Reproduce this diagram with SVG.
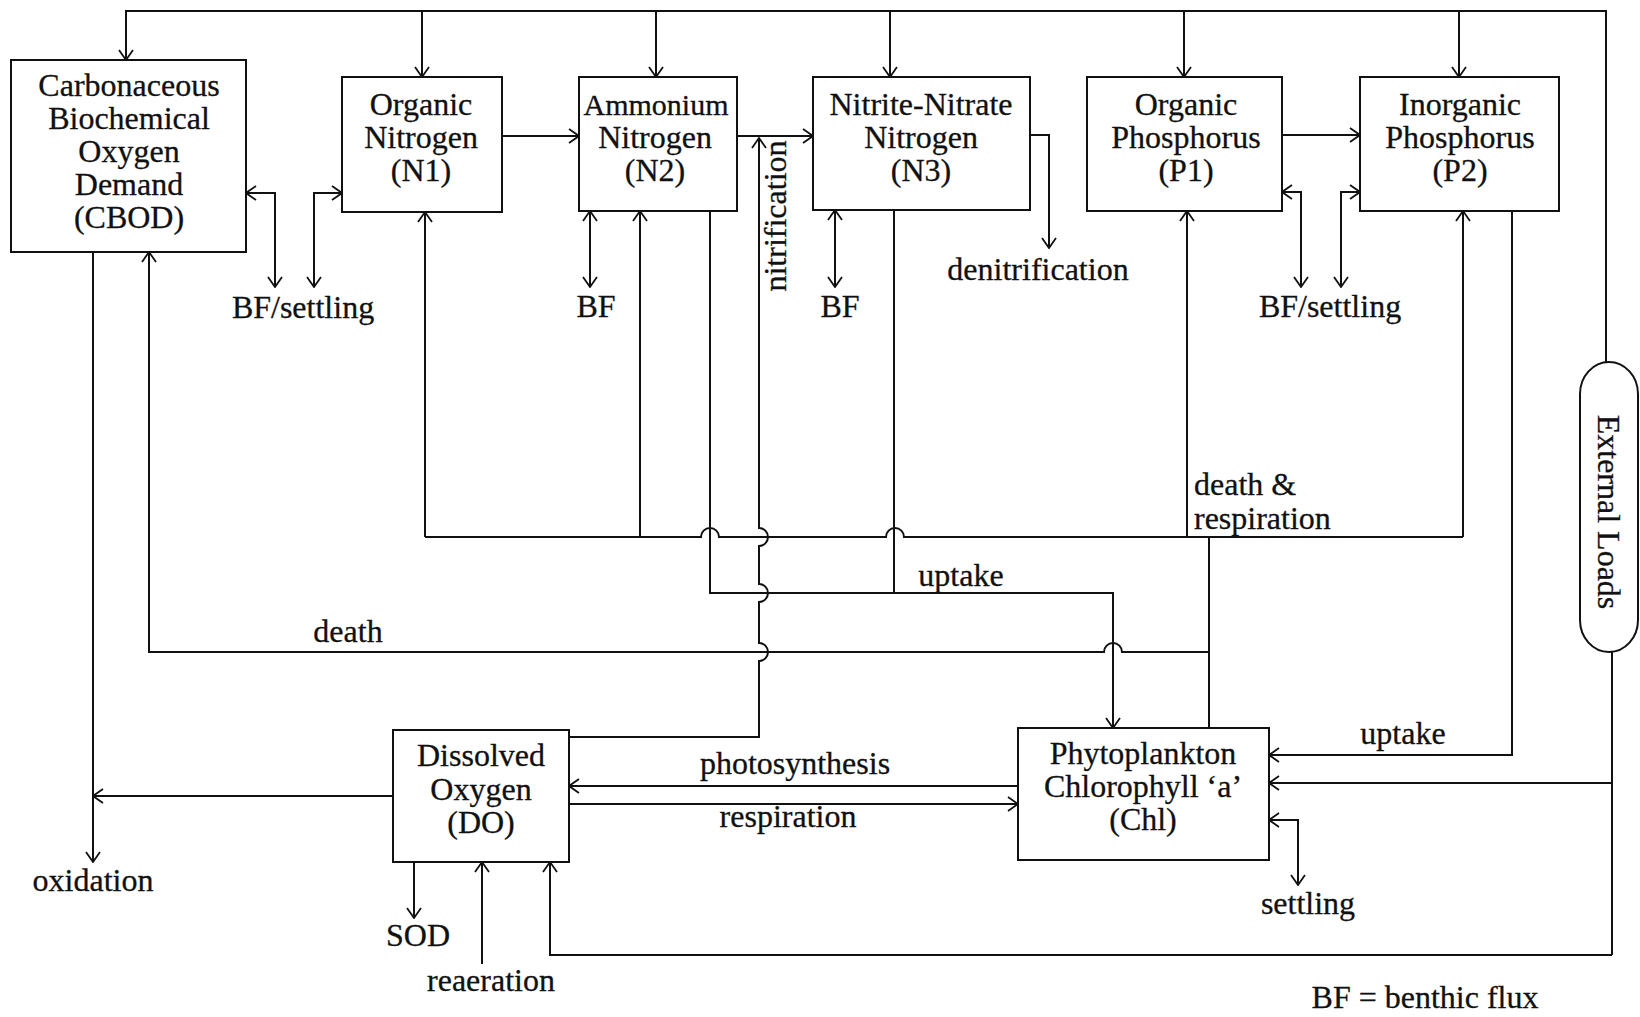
<svg xmlns="http://www.w3.org/2000/svg" width="1640" height="1017" viewBox="0 0 1640 1017">
<style>
text{font-family:"Liberation Serif","Times New Roman",serif;font-size:32px;fill:#111;stroke:#111;stroke-width:0.3}
.c{text-anchor:middle}
.box{fill:#fff;stroke:#111;stroke-width:2}
.ln{fill:none;stroke:#111;stroke-width:2}
</style>
<defs>
<marker id="a" viewBox="0 0 12 16" refX="11" refY="8" markerWidth="12" markerHeight="16" markerUnits="userSpaceOnUse" orient="auto-start-reverse">
<path d="M1,1 L11,8 L1,15" fill="none" stroke="#111" stroke-width="1.8"/>
</marker>
</defs>
<rect width="1640" height="1017" fill="#fff"/>

<g id="connectors">
<path class="ln" d="M1606,362 L1606,11 L126,11 L126,60" marker-end="url(#a)"/>
<path class="ln" d="M422,11 L422,77" marker-end="url(#a)"/>
<path class="ln" d="M656,11 L656,77" marker-end="url(#a)"/>
<path class="ln" d="M890,11 L890,77" marker-end="url(#a)"/>
<path class="ln" d="M1184,11 L1184,77" marker-end="url(#a)"/>
<path class="ln" d="M1459,11 L1459,77" marker-end="url(#a)"/>
<path class="ln" d="M502,136 L579,136" marker-end="url(#a)"/>
<path class="ln" d="M737,136 L813,136" marker-end="url(#a)"/>
<path class="ln" d="M1282,135 L1360,135" marker-end="url(#a)"/>
<path class="ln" d="M1030,135 L1049,135 L1049,248" marker-end="url(#a)"/>
<path class="ln" d="M569,737 L759,737 L759,661 A9,9 0 0 0 759,643 L759,602 A9,9 0 0 0 759,584 L759,546 A9,9 0 0 0 759,528 L759,138" marker-end="url(#a)"/>
<path class="ln" d="M275,287 L275,193 L246,193" marker-start="url(#a)" marker-end="url(#a)"/>
<path class="ln" d="M314,287 L314,193 L342,193" marker-start="url(#a)" marker-end="url(#a)"/>
<path class="ln" d="M590,211 L590,287" marker-start="url(#a)" marker-end="url(#a)"/>
<path class="ln" d="M835,210 L835,287" marker-start="url(#a)" marker-end="url(#a)"/>
<path class="ln" d="M1282,192 L1301,192 L1301,287" marker-start="url(#a)" marker-end="url(#a)"/>
<path class="ln" d="M1341,287 L1341,192 L1360,192" marker-start="url(#a)" marker-end="url(#a)"/>
<path class="ln" d="M1269,820 L1298,820 L1298,885" marker-start="url(#a)" marker-end="url(#a)"/>
<path class="ln" d="M1209,728 L1209,537"/>
<path class="ln" d="M425,537 L701,537 A9,9 0 0 1 719,537 L886,537 A9,9 0 0 1 904,537 L1463,537"/>
<path class="ln" d="M425,537 L425,212" marker-end="url(#a)"/>
<path class="ln" d="M640,537 L640,211" marker-end="url(#a)"/>
<path class="ln" d="M1187,537 L1187,211" marker-end="url(#a)"/>
<path class="ln" d="M1463,537 L1463,211" marker-end="url(#a)"/>
<path class="ln" d="M1209,652 L1122,652 A9,9 0 0 0 1104,652 L149,652 L149,252" marker-end="url(#a)"/>
<path class="ln" d="M710,211 L710,593 L1113,593 L1113,728" marker-end="url(#a)"/>
<path class="ln" d="M894,210 L894,593"/>
<path class="ln" d="M1512,211 L1512,755 L1269,755" marker-end="url(#a)"/>
<path class="ln" d="M1612,652 L1612,955"/>
<path class="ln" d="M1612,783 L1269,783" marker-end="url(#a)"/>
<path class="ln" d="M1612,955 L550,955 L550,862" marker-end="url(#a)"/>
<path class="ln" d="M1018,786 L569,786" marker-end="url(#a)"/>
<path class="ln" d="M569,804 L1018,804" marker-end="url(#a)"/>
<path class="ln" d="M393,796 L93,796" marker-end="url(#a)"/>
<path class="ln" d="M93,252 L93,862" marker-end="url(#a)"/>
<path class="ln" d="M414,862 L414,918" marker-end="url(#a)"/>
<path class="ln" d="M482,964 L482,862" marker-end="url(#a)"/>
</g>

<g id="labels">
<text class="c" x="303" y="318">BF/settling</text>
<text class="c" x="596" y="317">BF</text>
<text class="c" x="840" y="317">BF</text>
<text class="c" x="1038" y="280">denitrification</text>
<text class="c" x="1330" y="317">BF/settling</text>
<text transform="translate(786,216) rotate(-90)" class="c">nitrification</text>
<text x="1194" y="495">death &amp;</text>
<text x="1194" y="529">respiration</text>
<text class="c" x="961" y="586">uptake</text>
<text class="c" x="348" y="642">death</text>
<text class="c" x="795" y="774">photosynthesis</text>
<text class="c" x="788" y="827">respiration</text>
<text class="c" x="1403" y="744">uptake</text>
<text class="c" x="1308" y="914">settling</text>
<text class="c" x="93" y="891">oxidation</text>
<text class="c" x="418" y="946">SOD</text>
<text class="c" x="491" y="991">reaeration</text>
<text class="c" x="1425" y="1008">BF = benthic flux</text>
</g>

<g id="cbod">
<rect class="box" x="11" y="60" width="235" height="192"/>
<text class="c" x="129" y="96">Carbonaceous</text>
<text class="c" x="129" y="129">Biochemical</text>
<text class="c" x="129" y="162">Oxygen</text>
<text class="c" x="129" y="195">Demand</text>
<text class="c" x="129" y="228">(CBOD)</text>
</g>
<g id="n1">
<rect class="box" x="342" y="77" width="160" height="135"/>
<text class="c" x="421" y="115">Organic</text>
<text class="c" x="421" y="148">Nitrogen</text>
<text class="c" x="421" y="181">(N1)</text>
</g>
<g id="n2">
<rect class="box" x="579" y="77" width="158" height="134"/>
<text class="c" x="656" y="115" style="font-size:30px">Ammonium</text>
<text class="c" x="655" y="148">Nitrogen</text>
<text class="c" x="655" y="181">(N2)</text>
</g>
<g id="n3">
<rect class="box" x="813" y="77" width="217" height="133"/>
<text class="c" x="921" y="115">Nitrite-Nitrate</text>
<text class="c" x="921" y="148">Nitrogen</text>
<text class="c" x="921" y="181">(N3)</text>
</g>
<g id="p1">
<rect class="box" x="1087" y="77" width="195" height="134"/>
<text class="c" x="1186" y="115">Organic</text>
<text class="c" x="1186" y="148">Phosphorus</text>
<text class="c" x="1186" y="181">(P1)</text>
</g>
<g id="p2">
<rect class="box" x="1360" y="77" width="199" height="134"/>
<text class="c" x="1460" y="115">Inorganic</text>
<text class="c" x="1460" y="148">Phosphorus</text>
<text class="c" x="1460" y="181">(P2)</text>
</g>
<g id="do">
<rect class="box" x="393" y="730" width="176" height="132"/>
<text class="c" x="481" y="766">Dissolved</text>
<text class="c" x="481" y="800">Oxygen</text>
<text class="c" x="481" y="833">(DO)</text>
</g>
<g id="chl">
<rect class="box" x="1018" y="728" width="251" height="132"/>
<text class="c" x="1143" y="764">Phytoplankton</text>
<text class="c" x="1143" y="797">Chlorophyll ‘a’</text>
<text class="c" x="1143" y="830">(Chl)</text>
</g>
<g id="external-loads">
<rect class="box" x="1580" y="362" width="58" height="290" rx="29" ry="32"/>
<text transform="translate(1598,512) rotate(90)" class="c">External Loads</text>
</g>
</svg>
